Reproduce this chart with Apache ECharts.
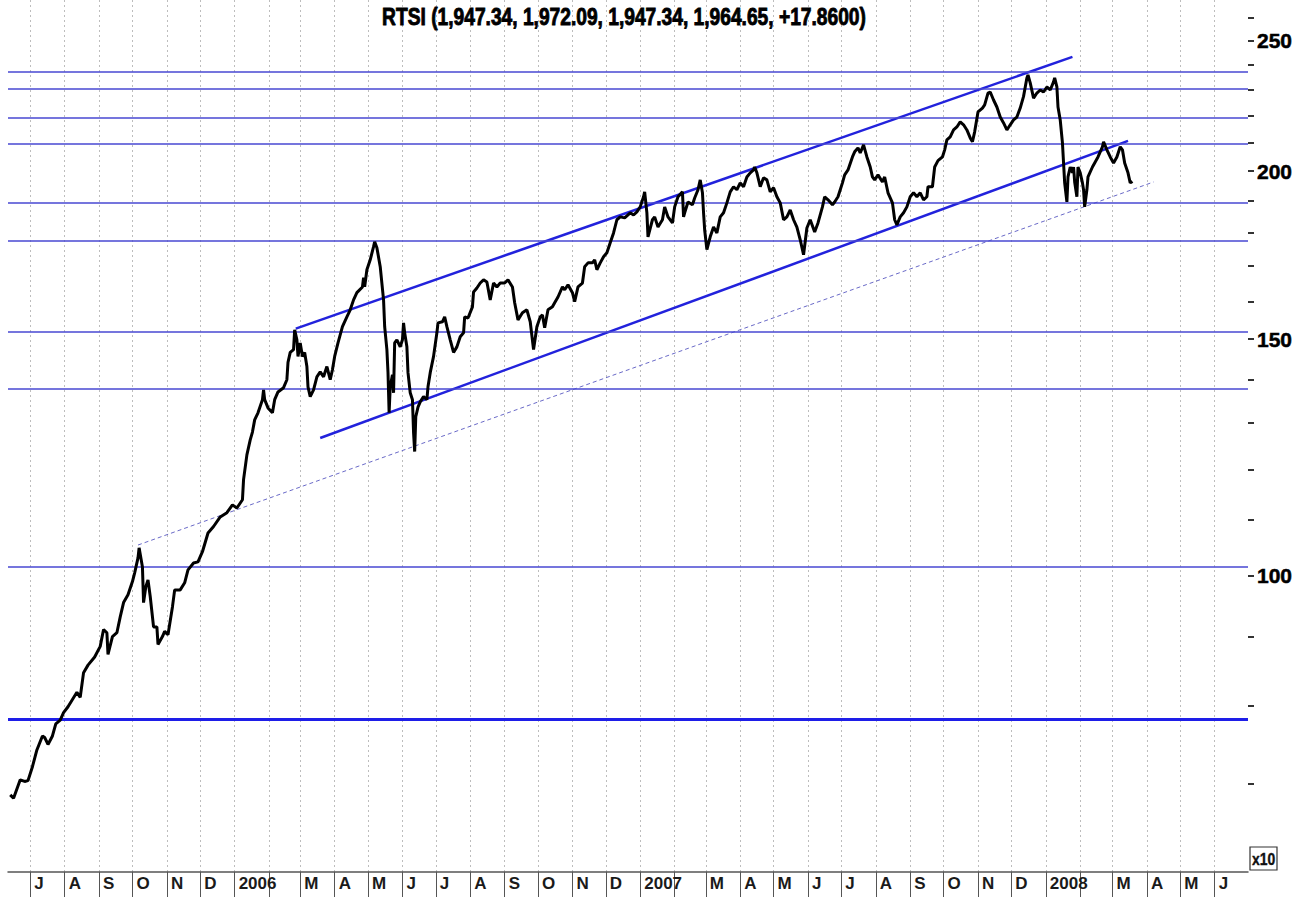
<!DOCTYPE html>
<html><head><meta charset="utf-8">
<script src="https://cdn.jsdelivr.net/npm/echarts@6/dist/echarts.min.js"></script>
<style>html,body{margin:0;padding:0;background:#fff}#chart{width:1307px;height:897px}</style>
</head><body><div id="chart"></div>
<script>
const titleText = 'RTSI (1,947.34, 1,972.09, 1,947.34, 1,964.65, +17.8600)';
const scaleNote = 'x10';

const priceDates = [
'2005-06-13','2005-06-16','2005-06-22','2005-06-26','2005-06-29','2005-07-03','2005-07-07','2005-07-12','2005-07-14','2005-07-17',
'2005-07-21','2005-07-24','2005-07-28','2005-07-31','2005-08-04','2005-08-08','2005-08-12','2005-08-15','2005-08-18','2005-08-22',
'2005-08-28','2005-09-02','2005-09-05','2005-09-08','2005-09-09','2005-09-13','2005-09-17','2005-09-20','2005-09-23','2005-09-27',
'2005-10-01','2005-10-03','2005-10-06','2005-10-07','2005-10-10','2005-10-11','2005-10-13','2005-10-15','2005-10-17','2005-10-20',
'2005-10-23','2005-10-24','2005-10-28','2005-10-30','2005-11-02','2005-11-06','2005-11-08','2005-11-13','2005-11-17','2005-11-20',
'2005-11-25','2005-11-29','2005-12-03','2005-12-08','2005-12-13','2005-12-19','2005-12-25','2005-12-30','2006-01-03','2006-01-08',
'2006-01-09','2006-01-12','2006-01-15','2006-01-17','2006-01-19','2006-01-22','2006-01-26','2006-01-27','2006-01-28','2006-01-31',
'2006-02-04','2006-02-06','2006-02-09','2006-02-14','2006-02-17','2006-02-18','2006-02-20','2006-02-23','2006-02-24','2006-02-26',
'2006-02-27','2006-03-01','2006-03-03','2006-03-05','2006-03-07','2006-03-08','2006-03-10','2006-03-13','2006-03-16','2006-03-19',
'2006-03-22','2006-03-25','2006-03-28','2006-03-30','2006-04-01','2006-04-04','2006-04-08','2006-04-12','2006-04-15','2006-04-18',
'2006-04-21','2006-04-26','2006-04-27','2006-04-28','2006-04-30','2006-05-03','2006-05-06','2006-05-07','2006-05-09','2006-05-12',
'2006-05-15','2006-05-16','2006-05-18','2006-05-19','2006-05-20','2006-05-21','2006-05-23','2006-05-24','2006-05-25','2006-05-27',
'2006-05-30','2006-06-01','2006-06-02','2006-06-03','2006-06-05','2006-06-06','2006-06-08','2006-06-10','2006-06-11','2006-06-12',
'2006-06-13','2006-06-15','2006-06-17','2006-06-20','2006-06-23','2006-06-24','2006-06-26','2006-06-29','2006-07-02','2006-07-03',
'2006-07-07','2006-07-09','2006-07-11','2006-07-14','2006-07-17','2006-07-20','2006-07-23','2006-07-26','2006-07-27','2006-07-30',
'2006-08-03','2006-08-04','2006-08-07','2006-08-10','2006-08-13','2006-08-16','2006-08-19','2006-08-22','2006-08-25','2006-08-28',
'2006-09-01','2006-09-04','2006-09-08','2006-09-10','2006-09-13','2006-09-17','2006-09-21','2006-09-24','2006-09-27','2006-09-30',
'2006-10-03','2006-10-05','2006-10-07','2006-10-10','2006-10-14','2006-10-16','2006-10-19','2006-10-23','2006-10-25','2006-10-28',
'2006-11-01','2006-11-03','2006-11-06','2006-11-10','2006-11-12','2006-11-15','2006-11-19','2006-11-21','2006-11-23','2006-11-26',
'2006-11-29','2006-12-02','2006-12-05','2006-12-08','2006-12-11','2006-12-14','2006-12-18','2006-12-23','2006-12-26','2006-12-29',
'2007-01-01','2007-01-04','2007-01-05','2007-01-07','2007-01-08','2007-01-12','2007-01-14','2007-01-17','2007-01-21','2007-01-23',
'2007-01-26','2007-01-30','2007-02-01','2007-02-04','2007-02-08','2007-02-09','2007-02-10','2007-02-13','2007-02-17','2007-02-19',
'2007-02-22','2007-02-24','2007-02-26','2007-02-27','2007-02-28','2007-03-02','2007-03-05','2007-03-08','2007-03-11','2007-03-14',
'2007-03-17','2007-03-20','2007-03-23','2007-03-26','2007-03-29','2007-04-01','2007-04-04','2007-04-07','2007-04-10','2007-04-13',
'2007-04-14','2007-04-16','2007-04-19','2007-04-22','2007-04-25','2007-04-28','2007-05-01','2007-05-04','2007-05-07','2007-05-10',
'2007-05-13','2007-05-16','2007-05-19','2007-05-22','2007-05-25','2007-05-28','2007-05-31','2007-06-03','2007-06-07','2007-06-10',
'2007-06-14','2007-06-16','2007-06-19','2007-06-23','2007-06-25','2007-06-28','2007-07-02','2007-07-04','2007-07-07','2007-07-11',
'2007-07-13','2007-07-16','2007-07-18','2007-07-21','2007-07-24','2007-07-27','2007-07-29','2007-07-31','2007-08-03','2007-08-07',
'2007-08-09','2007-08-12','2007-08-16','2007-08-18','2007-08-20','2007-08-23','2007-08-26','2007-08-29','2007-09-01','2007-09-04',
'2007-09-07','2007-09-10','2007-09-13','2007-09-16','2007-09-17','2007-09-21','2007-09-23','2007-09-26','2007-09-30','2007-10-02',
'2007-10-04','2007-10-07','2007-10-10','2007-10-13','2007-10-16','2007-10-19','2007-10-22','2007-10-25','2007-10-27','2007-10-29',
'2007-11-01','2007-11-05','2007-11-07','2007-11-10','2007-11-12','2007-11-15','2007-11-18','2007-11-21','2007-11-24','2007-11-27',
'2007-11-30','2007-12-03','2007-12-06','2007-12-09','2007-12-12','2007-12-15','2007-12-16','2007-12-18','2007-12-21','2007-12-24',
'2007-12-27','2007-12-30','2008-01-02','2008-01-05','2008-01-08','2008-01-09','2008-01-11','2008-01-12','2008-01-14','2008-01-16',
'2008-01-17','2008-01-18','2008-01-20','2008-01-21','2008-01-23','2008-01-25','2008-01-26','2008-01-27','2008-01-29','2008-01-30',
'2008-02-01','2008-02-03','2008-02-04','2008-02-05','2008-02-07','2008-02-08','2008-02-12','2008-02-14','2008-02-17','2008-02-21',
'2008-02-22','2008-02-25','2008-02-28','2008-03-02','2008-03-05','2008-03-08','2008-03-10','2008-03-12','2008-03-15','2008-03-17',
'2008-03-19'
];
const priceValues = [
68.7,68.3,70.5,70.3,70.4,72.1,74.2,76.0,75.8,74.9,
76.0,77.6,78.1,79.1,79.9,80.9,81.9,81.2,84.7,85.8,
87.0,88.6,91.2,90.7,87.4,90.1,90.7,93.2,95.5,96.8,
99.0,100.5,103.1,104.9,101.5,95.5,98.1,99.3,96.5,91.6,
91.6,88.9,90.1,90.9,90.4,94.8,97.6,97.6,98.8,101.0,
102.2,102.4,104.2,107.6,108.8,110.6,111.4,112.9,112.3,113.9,
117.9,123.0,126.2,127.9,130.6,132.2,135.2,137.5,135.2,133.3,
132.2,135.2,137.0,138.0,139.9,144.1,146.6,147.3,152.4,149.8,
145.6,149.0,145.6,146.6,143.1,138.2,135.9,137.5,140.6,141.8,
140.6,143.1,139.9,142.3,145.6,149.0,153.2,155.8,157.7,160.4,
162.4,164.0,166.6,164.0,168.9,171.8,175.7,177.2,175.4,169.8,
160.4,153.2,147.3,141.6,132.2,138.2,141.1,136.8,149.0,149.8,
148.0,149.8,154.2,151.6,148.0,141.6,136.8,135.2,127.8,123.7,
131.3,133.5,134.7,135.9,135.2,138.2,141.6,145.6,151.6,154.2,
154.5,155.8,153.2,149.8,146.6,148.0,150.6,151.6,155.8,155.5,
158.5,162.6,163.7,165.1,166.0,165.4,160.4,165.1,164.0,165.1,
165.1,166.0,164.0,159.6,155.0,156.9,157.7,154.5,147.3,153.2,
155.8,156.3,152.9,157.7,158.5,159.6,161.2,164.0,163.2,164.6,
162.4,159.9,164.0,165.1,169.8,170.9,170.9,171.8,168.9,170.9,
172.7,173.9,176.9,179.9,184.0,184.9,184.6,186.2,185.5,186.5,
188.1,191.4,193.0,186.2,178.7,184.0,184.9,181.7,184.0,188.1,
184.9,183.0,188.1,191.4,193.0,184.9,186.2,189.7,188.8,191.0,
193.7,197.0,192.7,186.2,180.8,174.8,178.7,181.7,179.9,184.9,
186.2,189.4,193.0,194.7,193.7,196.0,194.7,198.0,199.4,200.4,
201.4,199.4,194.7,197.7,197.0,193.0,194.4,191.4,189.4,184.0,
184.9,187.1,184.0,181.7,177.8,173.3,181.4,184.0,180.2,183.0,
188.1,191.4,190.4,188.8,189.7,191.4,196.0,198.7,200.4,204.9,
206.7,208.1,206.3,209.2,204.9,201.4,198.0,197.0,198.7,196.3,
198.0,192.7,189.4,184.0,182.4,184.9,186.2,188.1,191.4,192.7,
191.4,192.7,190.4,191.4,194.7,194.7,201.4,203.6,204.9,207.4,
211.0,212.1,214.6,215.7,217.6,216.5,214.6,211.7,210.3,213.9,
221.3,222.8,224.0,228.6,229.0,225.9,223.2,219.4,217.2,214.6,
216.5,218.3,219.4,222.8,227.3,234.6,235.8,232.6,226.6,228.6,
229.8,229.0,231.0,229.8,233.0,234.6,231.0,223.2,218.3,209.9,
202.8,196.0,189.7,198.0,201.4,199.4,201.4,196.3,191.4,201.4,
199.4,196.0,193.7,188.1,193.7,198.0,201.4,202.8,204.9,208.5,
210.3,207.4,204.9,202.8,204.9,208.5,207.4,202.8,199.4,196.0,
196.5
];

const levelValues = [237.0, 230.2, 219.1, 209.6, 189.4, 177.6, 151.9, 137.7, 101.6];
const keyLevelValues = [78.2];

const upperChannelDates = ['2006-02-25', '2008-01-25'];
const upperChannelValues = [152.7, 243.2];
const lowerChannelDates = ['2006-03-19', '2008-03-15'];
const lowerChannelValues = [126.6, 210.6];
const supportDates = ['2005-10-06', '2008-04-07'];
const supportValues = [105.4, 196.3];

const axisStart = '2005-06-11';
const axisEnd = '2008-07-01';
const monthTicks = [
'2005-07-01','2005-08-01','2005-09-01','2005-10-01','2005-11-01','2005-12-01',
'2006-01-01','2006-02-01','2006-03-01','2006-04-01','2006-05-01','2006-06-01',
'2006-07-01','2006-08-01','2006-09-01','2006-10-01','2006-11-01','2006-12-01',
'2007-01-01','2007-02-01','2007-03-01','2007-04-01','2007-05-01','2007-06-01',
'2007-07-01','2007-08-01','2007-09-01','2007-10-01','2007-11-01','2007-12-01',
'2008-01-01','2008-02-01','2008-03-01','2008-04-01','2008-05-01','2008-06-01'
];
const monthLetters = ['J','F','M','A','M','J','J','A','S','O','N','D'];
const yTickValues = [70,80,90,100,110,120,130,140,150,160,170,180,190,200,210,220,230,240,250,260];
const yLabelValues = [100,150,200,250];

const toTime = d => +echarts.time.parse(d);
const pair = (ds, vs) => ds.map((d, i) => [toTime(d), vs[i]]);
const monthTickTimes = monthTicks.map(toTime);

const chart = echarts.init(document.getElementById('chart'), null, {renderer: 'svg'});
chart.setOption({
  animation: false,
  backgroundColor: '#ffffff',
  grid: {left: 8, right: 59, top: 0, bottom: 25, containLabel: false, outerBoundsMode: 'none'},
  graphic: [
    {type: 'text', x: 624, y: 5, z: 10, scaleX: 0.8, scaleY: 1,
     style: {text: titleText, textAlign: 'center', textVerticalAlign: 'top', verticalAlign: 'top',
             font: 'bold 24px "Liberation Sans", Arial, sans-serif', fill: '#000', stroke: '#000', lineWidth: 0.9}},
    {type: 'rect', z: 10, shape: {x: 1250, y: 847, width: 27, height: 23},
     style: {fill: '#fff', stroke: '#333', lineWidth: 1.2}},
    {type: 'text', x: 1263.5, y: 850, z: 11, scaleX: 0.82, scaleY: 1,
     style: {text: scaleNote, textAlign: 'center', textVerticalAlign: 'top', verticalAlign: 'top',
             font: 'bold 17px "Liberation Sans", Arial, sans-serif', fill: '#111', stroke: '#111', lineWidth: 0.4}}
  ],
  xAxis: {
    type: 'value', min: toTime(axisStart), max: toTime(axisEnd), scale: true,
    axisLine: {show: true, onZero: false, lineStyle: {color: '#555', width: 1.5}},
    axisTick: {show: true, customValues: monthTickTimes, length: 25, lineStyle: {color: '#555', width: 1}},
    axisLabel: {
      customValues: monthTickTimes, align: 'left', padding: [0, 0, 0, 4], margin: 3,
      fontFamily: '"Liberation Sans", Arial, sans-serif', fontWeight: 'bold', fontSize: 17, color: '#1a1a1a',
      formatter: function (value) {
        const d = new Date(value);
        const m = d.getMonth();
        if (m === 0) return String(d.getFullYear());
        if (m === 1) return '';
        return monthLetters[m];
      }
    },
    splitLine: {show: true, lineStyle: {color: '#bdbdbd', type: [2, 3], width: 1}}
  },
  yAxis: {
    type: 'log', logBase: 10, min: 60.2, max: 268.1, position: 'right',
    axisLine: {show: false},
    splitLine: {show: false},
    axisTick: {show: true, customValues: yTickValues, length: 6, lineStyle: {color: '#333', width: 2}},
    axisLabel: {customValues: yLabelValues, margin: 9, fontFamily: '"Liberation Sans", Arial, sans-serif',
                fontWeight: 'bold', fontSize: 21, color: '#000', textBorderColor: '#000', textBorderWidth: 0.5}
  },
  series: [
    {
      name: 'support', type: 'line', data: pair(supportDates, supportValues), symbol: 'none', z: 2,
      lineStyle: {color: '#6a6ac8', width: 1, type: [4, 3]},
      markLine: {
        silent: true, symbol: ['none', 'none'], label: {show: false},
        lineStyle: {color: '#4747d2', width: 1.5, type: 'solid'},
        data: levelValues.map(v => ({yAxis: v})).concat(
          keyLevelValues.map(v => ({yAxis: v, lineStyle: {color: '#1e1ee8', width: 3, type: 'solid'}})))
      }
    },
    {name: 'upper', type: 'line', data: pair(upperChannelDates, upperChannelValues), symbol: 'none', z: 3,
     lineStyle: {color: '#2222dc', width: 2.5}},
    {name: 'lower', type: 'line', data: pair(lowerChannelDates, lowerChannelValues), symbol: 'none', z: 3,
     lineStyle: {color: '#2222dc', width: 2.5}},
    {name: 'RTSI', type: 'line', data: pair(priceDates, priceValues), symbol: 'none', z: 5,
     lineStyle: {color: '#000', width: 3}}
  ]
});
</script></body></html>
